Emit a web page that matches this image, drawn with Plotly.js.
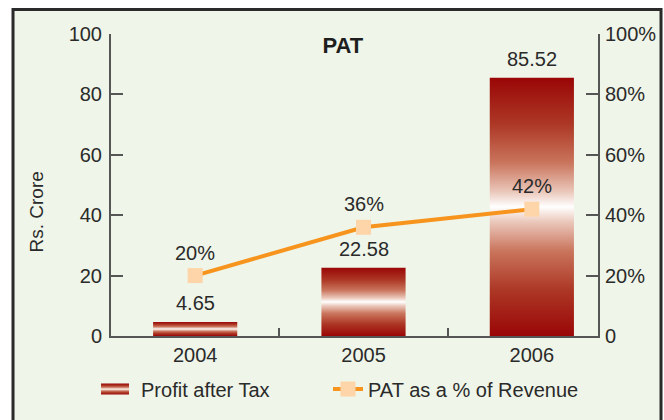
<!DOCTYPE html>
<html><head><meta charset="utf-8">
<script src="https://cdn.plot.ly/plotly-3.0.1.min.js"></script>
<style>html,body{margin:0;padding:0;background:#fff}#chart{width:664px;height:420px}</style>
</head><body><div id="chart"></div>
<script>
const years = ['2004', '2005', '2006'];
const profitAfterTax = [4.65, 22.58, 85.52];
const patPercentOfRevenue = [20, 36, 42];
const leftTickVals = [0, 20, 40, 60, 80, 100];
const rightTickVals = [0, 20, 40, 60, 80, 100];
const rightTickText = ['0', '20%', '40%', '60%', '80%', '100%'];

const FONT = 'Liberation Sans, Arial, sans-serif';
const TXT = '#2a2a2a';
const AX = '#555555';
const FS = 20;

const traces = [
  {type: 'bar', name: 'Profit after Tax', x: years, y: profitAfterTax, width: 0.5,
   marker: {color: '#b03a2a', line: {width: 0}}, hoverinfo: 'none', legend: 'legend'},
  {type: 'scatter', mode: 'lines+markers', name: 'PAT as a % of Revenue', x: years, y: patPercentOfRevenue,
   yaxis: 'y2', line: {color: '#f7941d', width: 4},
   marker: {symbol: 'square', size: 15, color: '#fdd5a8', line: {width: 0}}, hoverinfo: 'none', legend: 'legend2'}
];

const annotations = [];
years.forEach((yr, i) => {
  annotations.push({x: i, y: profitAfterTax[i], xref: 'x', yref: 'y', text: profitAfterTax[i].toFixed(2),
    showarrow: false, yanchor: 'middle', yshift: 19, font: {family: FONT, size: FS, color: TXT}});
  annotations.push({x: i, y: patPercentOfRevenue[i], xref: 'x', yref: 'y2', text: patPercentOfRevenue[i] + '%',
    showarrow: false, yanchor: 'middle', yshift: 23, font: {family: FONT, size: FS, color: TXT}});
});
annotations.push({x: -0.154, y: 0.409, xref: 'paper', yref: 'paper', text: 'Rs. Crore', textangle: -90,
  showarrow: false, xanchor: 'center', yanchor: 'middle', font: {family: FONT, size: 19, color: TXT}});

const axisCommon = {showline: true, linecolor: AX, linewidth: 2, ticks: 'inside', tickcolor: AX, tickwidth: 2,
  showgrid: false, zeroline: false, tickfont: {family: FONT, size: FS, color: TXT}, fixedrange: true};

const legendCommon = {orientation: 'h', y: -0.172, xanchor: 'left', yanchor: 'middle',
  bgcolor: 'rgba(0,0,0,0)', font: {family: FONT, size: FS, color: TXT}};

const layout = {
  width: 664, height: 420,
  margin: {l: 111, r: 66, t: 34, b: 83},
  paper_bgcolor: '#ffffff', plot_bgcolor: 'rgba(0,0,0,0)',
  font: {family: FONT, size: FS, color: TXT},
  title: {text: '<b>PAT</b>', xref: 'paper', yref: 'paper', x: 0.476, y: 0.964, xanchor: 'center', yanchor: 'middle',
    font: {family: FONT, size: 22, color: '#1e1e1e'}},
  showlegend: true,
  legend: Object.assign({}, legendCommon, {x: -0.0205}),
  legend2: Object.assign({}, legendCommon, {x: 0.4456}),
  xaxis: Object.assign({}, axisCommon, {type: 'category', range: [-0.5, 2.393], tickson: 'boundaries', ticklen: 8,
    ticklabelstandoff: 0}),
  yaxis: Object.assign({}, axisCommon, {range: [0, 100], tickvals: leftTickVals, ticklen: 12, ticklabelstandoff: 3}),
  yaxis2: Object.assign({}, axisCommon, {range: [0, 100], overlaying: 'y', side: 'right', tickvals: rightTickVals,
    ticktext: rightTickText, ticklen: 12, ticklabelstandoff: 1}),
  annotations: annotations,
  shapes: [{type: 'rect', xref: 'paper', yref: 'paper', x0: -0.2012, x1: 1.1294, y0: -0.30, y1: 1.0809,
    fillcolor: '#eff5e8', line: {color: '#2a2a2a', width: 3}, layer: 'below'}]
};

Plotly.newPlot('chart', traces, layout, {displayModeBar: false, staticPlot: true}).then(gd => {
  const ns = 'http://www.w3.org/2000/svg';
  const svg = gd.querySelector('svg.main-svg');
  let defs = svg.querySelector('defs');
  if (!defs) { defs = document.createElementNS(ns, 'defs'); svg.insertBefore(defs, svg.firstChild); }
  const grad = document.createElementNS(ns, 'linearGradient');
  grad.setAttribute('id', 'patGrad');
  grad.setAttribute('x1', '0'); grad.setAttribute('y1', '0');
  grad.setAttribute('x2', '0'); grad.setAttribute('y2', '1');
  const stops = [[0, '#9a0606'], [0.18, '#ad3826'], [0.33, '#ca755d'], [0.44, '#eac6b9'], [0.5, '#ffffff'],
                 [0.56, '#eac6b9'], [0.67, '#ca755d'], [0.82, '#ad3826'], [1, '#9a0606']];
  stops.forEach(([o, c]) => {
    const s = document.createElementNS(ns, 'stop');
    s.setAttribute('offset', o); s.setAttribute('stop-color', c);
    grad.appendChild(s);
  });
  defs.appendChild(grad);
  gd.querySelectorAll('.barlayer .point path').forEach(p => { p.style.fill = 'url(#patGrad)'; });
  const leg1 = gd.querySelector('.legend');
  if (leg1) {
    leg1.querySelectorAll('.traces .legendpoints path').forEach(p => {
      p.setAttribute('d', 'M8,5.5H-22V-5.5H8Z');
      p.style.fill = 'url(#patGrad)';
    });
  }
});
</script>
</body></html>
